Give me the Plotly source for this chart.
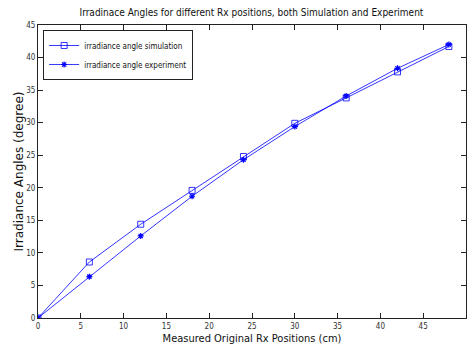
import plotly.graph_objects as go

# Receiver positions (cm) and irradiance angles (degrees)
positions = [0, 6, 12, 18, 24, 30, 36, 42, 48]
angle_simulation = [0, 8.6, 14.4, 19.6, 24.8, 29.9, 33.8, 37.8, 41.7]
angle_experiment = [0, 6.35, 12.6, 18.7, 24.3, 29.4, 34.1, 38.35, 42.0]

x_ticks = list(range(0, 51, 5))
y_ticks = list(range(0, 46, 5))

narrow = "DejaVu Sans Condensed, Liberation Sans Narrow, sans-serif"
blue = "#0000ff"

fig = go.Figure()
fig.add_trace(go.Scatter(
    x=positions, y=angle_simulation, mode="lines+markers",
    name="irradiance angle simulation",
    line=dict(color=blue, width=0.8),
    marker=dict(symbol="square-open", size=6, color=blue, line=dict(width=0.8)),
))
fig.add_trace(go.Scatter(
    x=positions, y=angle_experiment, mode="lines+markers",
    name="irradiance angle experiment",
    line=dict(color=blue, width=0.8),
    marker=dict(symbol="asterisk-open", size=5, color=blue, line=dict(width=1.2, color=blue)),
))

axis_common = dict(
    showgrid=False, zeroline=False, showline=True, linecolor="#222",
    linewidth=1, mirror="ticks", ticks="inside", ticklen=5, tickcolor="#222",
    tickfont=dict(family=narrow, size=8, color="#333"),
)

fig.update_layout(
    width=470, height=354,
    margin=dict(l=38, r=4, t=25, b=36),
    paper_bgcolor="white", plot_bgcolor="white",
    title=dict(
        text="Irradinace Angles for different Rx positions, both Simulation and Experiment",
        font=dict(family=narrow, size=10, color="#111"),
        x=0.535, xanchor="center", y=0.965, yanchor="middle",
    ),
    xaxis=dict(
        range=[0, 50], tickvals=x_ticks, ticktext=[str(v) for v in x_ticks],
        title=dict(text="Measured Original Rx Positions (cm)",
                   font=dict(family=narrow, size=11, color="#111"), standoff=4),
        **axis_common,
    ),
    yaxis=dict(
        range=[0, 45], tickvals=y_ticks, ticktext=[str(v) for v in y_ticks],
        title=dict(text="Irradiance Angles (degree)",
                   font=dict(family="DejaVu Sans, sans-serif", size=12, color="#111"),
                   standoff=0),
        **axis_common,
    ),
    legend=dict(
        x=0.012, y=0.983, xanchor="left", yanchor="top",
        bgcolor="white", bordercolor="#222", borderwidth=1,
        font=dict(family=narrow, size=8, color="#111"),
        itemwidth=30, tracegroupgap=0,
    ),
    showlegend=True,
)

fig.write_html("out.html")
